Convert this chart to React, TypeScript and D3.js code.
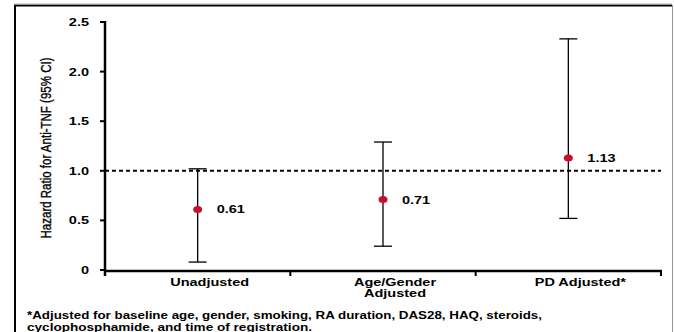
import React from "react";
import * as d3 from "d3";

const categories = ["Unadjusted", "Age/Gender Adjusted", "PD Adjusted*"];
const catLines = [["Unadjusted"], ["Age/Gender", "Adjusted"], ["PD Adjusted*"]];
const hr = [0.61, 0.71, 1.13];
const lower = [0.08, 0.24, 0.52];
const upper = [1.02, 1.29, 2.33];
const hrLabels = ["0.61", "0.71", "1.13"];
const yTicks = [0, 0.5, 1.0, 1.5, 2.0, 2.5];
const yTickLabels = ["0", "0.5", "1.0", "1.5", "2.0", "2.5"];
const refLine = 1.0;
const footnote = [
  "*Adjusted for baseline age, gender, smoking, RA duration, DAS28, HAQ, steroids,",
  "cyclophosphamide, and time of registration.",
];

const W = 674, H = 332;
const m = { l: 105, r: 661, t: 22, b: 270 };
const SX = 1.38; // the picture is stretched sideways
const FONT = "Liberation Sans, Arial, sans-serif";
const RED = "#c8102e";

// bold text widened like the source image
function WideText({ x, y, anchor = "start", children, size = 10.5 }: any) {
  return (
    <g transform={`translate(${x},${y}) scale(${SX},1)`}>
      <text textAnchor={anchor} fontFamily={FONT} fontWeight="bold" fontSize={size} fill="#000">
        {children}
      </text>
    </g>
  );
}

export default function App() {
  const x = d3.scaleBand().domain(categories).range([m.l, m.r]).padding(0);
  const y = d3.scaleLinear().domain([0, 2.5]).range([m.b, m.t]);
  const bw = x.bandwidth();
  const cx = (c: string) => (x(c) as number) + bw / 2;

  return (
    <svg width={W} height={H} style={{ position: "absolute", left: 0, top: 0, background: "#fff" }}>
      {/* frame */}
      <line x1={15} y1={5} x2={15} y2={H} stroke="#000" strokeWidth={2} />
      <line x1={14} y1={5.5} x2={672} y2={5.5} stroke="#000" strokeWidth={2} />
      <line x1={14} y1={4} x2={672} y2={4} stroke="#aaa" strokeWidth={1} />
      <line x1={672.5} y1={5} x2={672.5} y2={H} stroke="#999" strokeWidth={1} />

      {/* y axis */}
      <line x1={m.l} y1={y(2.5) - 1} x2={m.l} y2={m.b + 6} stroke="#000" strokeWidth={2.5} />
      {yTicks.map((t, i) => (
        <g key={t}>
          <line x1={m.l - 5} x2={m.l} y1={y(t)} y2={y(t)} stroke="#000" strokeWidth={2} />
          <WideText x={89} y={y(t) + 4} anchor="end">{yTickLabels[i]}</WideText>
        </g>
      ))}
      <g transform={`translate(51,${(y(0) + y(2.5)) / 2 + 2}) rotate(-90) scale(1,${SX})`}>
        <text
          textAnchor="middle"
          fontFamily="Liberation Sans Narrow, Arial Narrow, Liberation Sans, sans-serif"
          fontSize={10.5}
          textLength={181}
          lengthAdjust="spacingAndGlyphs"
          stroke="#000"
          strokeWidth={0.25}
          fill="#000"
        >
          Hazard Ratio for Anti-TNF (95% CI)
        </text>
      </g>

      {/* x axis */}
      <line x1={m.l} x2={m.r + 1} y1={m.b + 1} y2={m.b + 1} stroke="#000" strokeWidth={2.5} />
      {categories.map((c) => (
        <line key={c} x1={(x(c) as number) + bw} x2={(x(c) as number) + bw} y1={m.b} y2={m.b + 6} stroke="#000" strokeWidth={2} />
      ))}
      {categories.map((c, i) =>
        catLines[i].map((ln, j) => (
          <WideText key={c + j} x={cx(c) + 12} y={286 + j * 11} anchor="middle">{ln}</WideText>
        ))
      )}

      {/* reference line */}
      <line x1={m.l} x2={m.r} y1={y(refLine)} y2={y(refLine)} stroke="#000" strokeWidth={2} strokeDasharray="4,3" />

      {/* error bars */}
      {categories.map((c, i) => (
        <g key={c}>
          <line x1={cx(c)} x2={cx(c)} y1={y(upper[i])} y2={y(lower[i])} stroke="#000" strokeWidth={1.3} />
          <line x1={cx(c) - 9} x2={cx(c) + 9} y1={y(upper[i])} y2={y(upper[i])} stroke="#000" strokeWidth={1.3} />
          <line x1={cx(c) - 9} x2={cx(c) + 9} y1={y(lower[i])} y2={y(lower[i])} stroke="#000" strokeWidth={1.3} />
          <ellipse cx={cx(c)} cy={y(hr[i])} rx={4.5} ry={3.5} fill={RED} />
          <WideText x={cx(c) + 19} y={y(hr[i]) + 4}>{hrLabels[i]}</WideText>
        </g>
      ))}

      {/* footnote */}
      {footnote.map((f, i) => (
        <text
          key={i}
          x={27}
          y={319 + i * 11.5}
          fontFamily={FONT}
          fontWeight="bold"
          fontSize={10}
          textLength={i === 0 ? 515 : 285}
          lengthAdjust="spacingAndGlyphs"
          fill="#000"
        >
          {f}
        </text>
      ))}
    </svg>
  );
}
